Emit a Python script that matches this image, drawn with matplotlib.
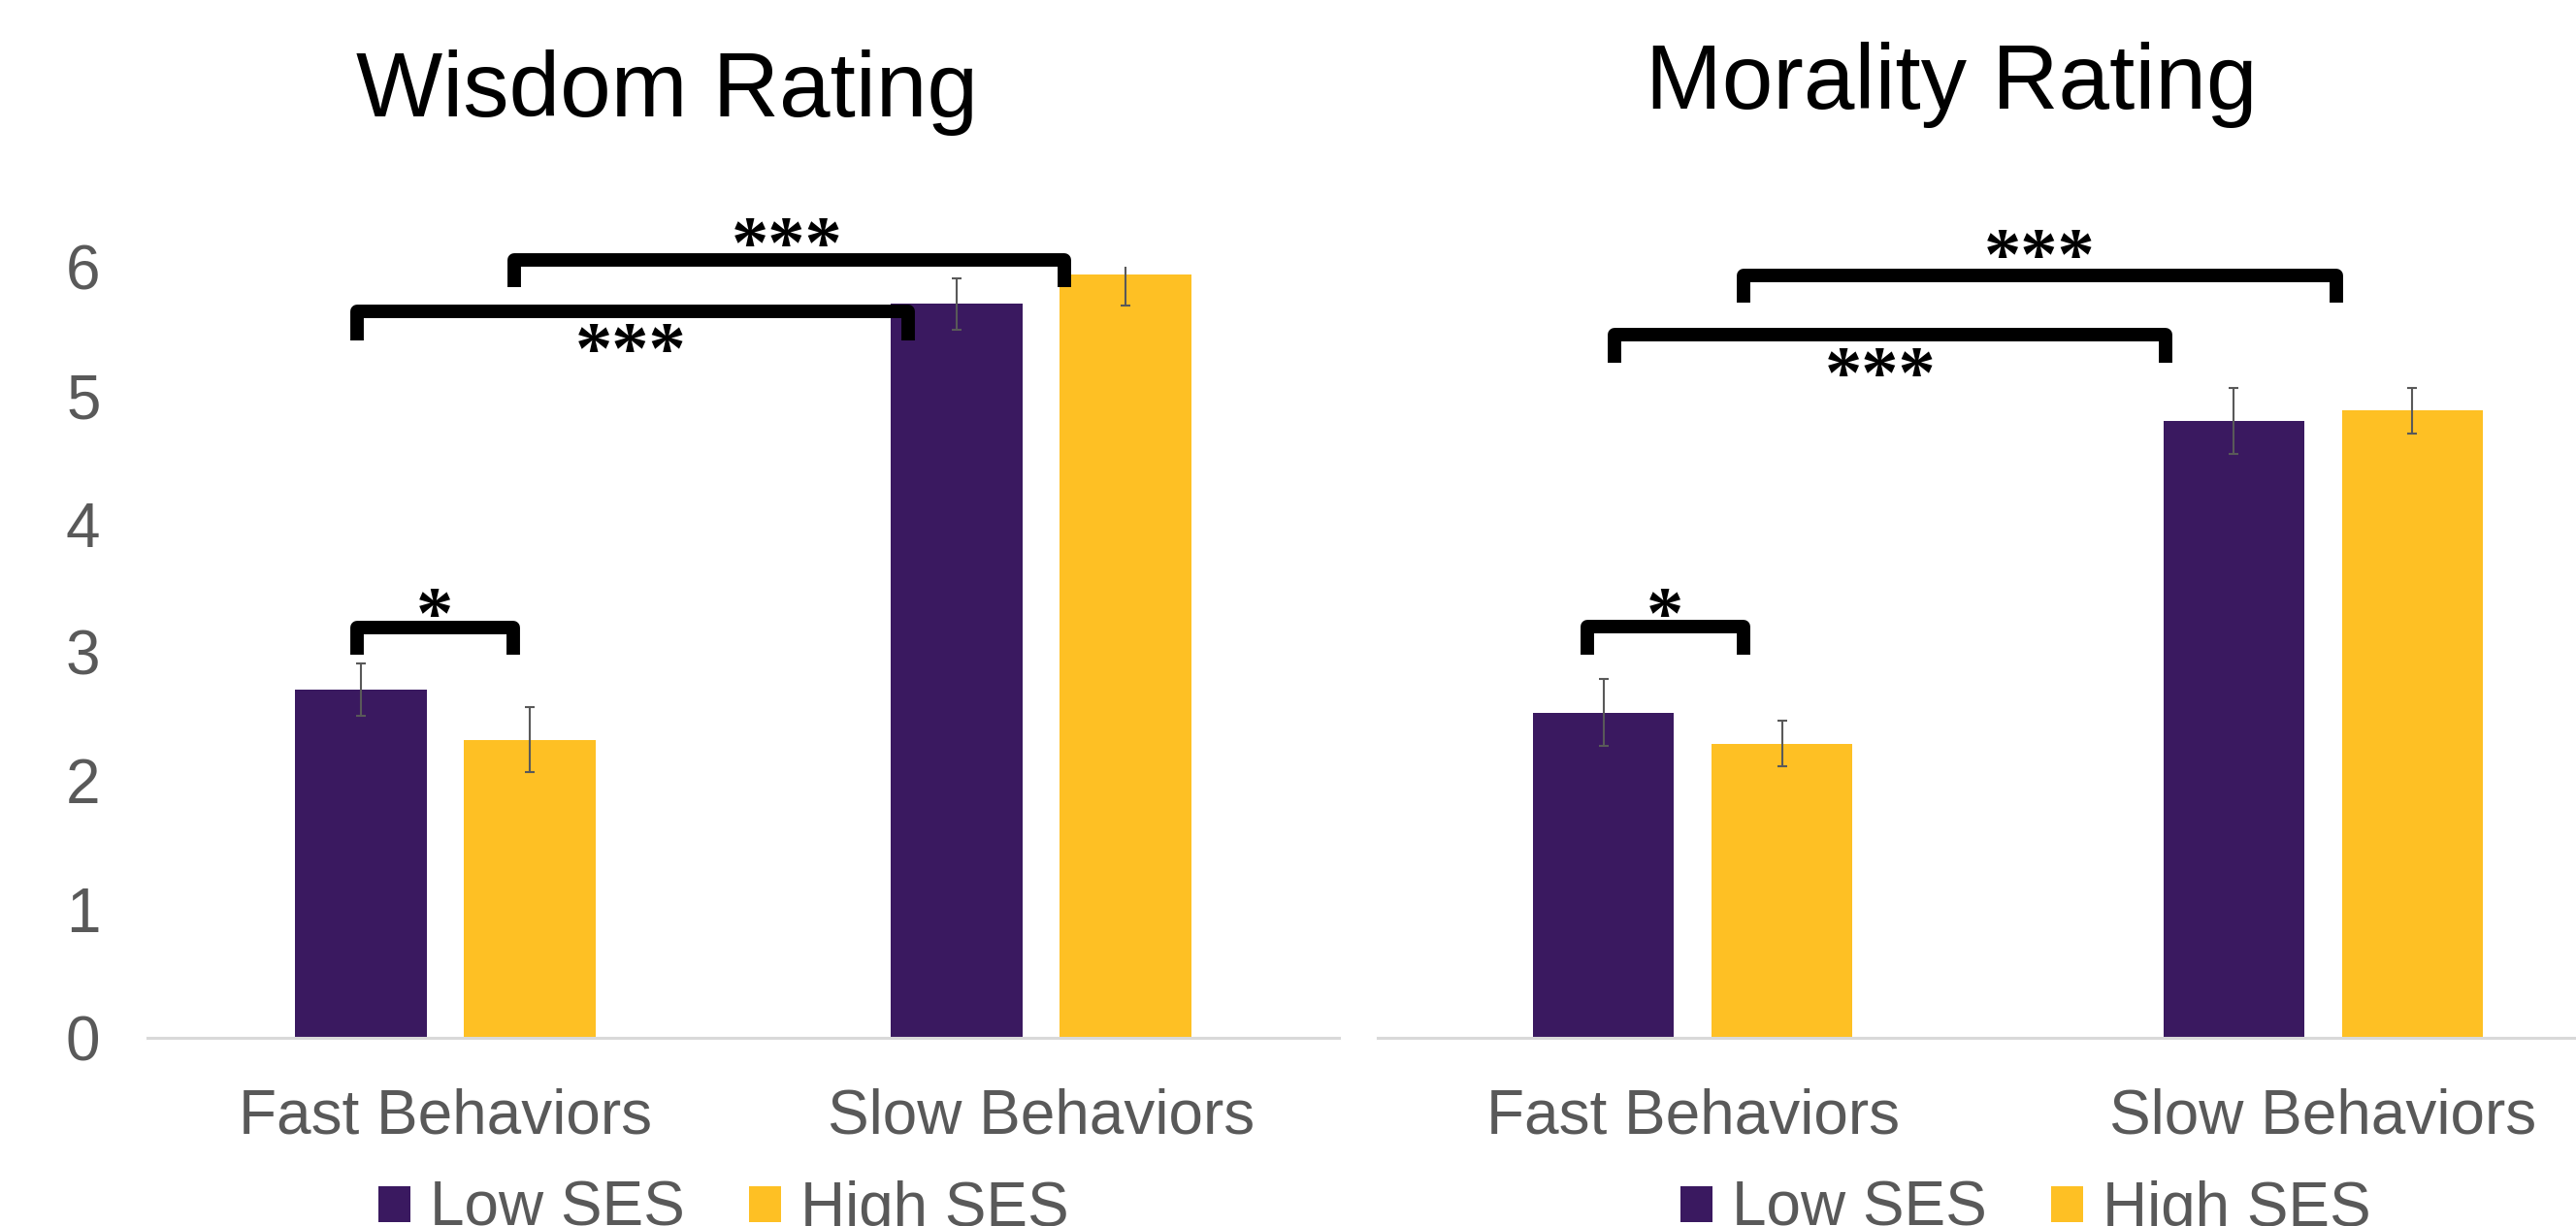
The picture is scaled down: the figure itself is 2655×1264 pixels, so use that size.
import matplotlib
matplotlib.use("Agg")
import matplotlib.pyplot as plt
from matplotlib.path import Path
from matplotlib.patches import PathPatch

# === Данные ===
categories = ["Fast Behaviors", "Slow Behaviors"]
groups = ["Low SES", "High SES"]

wisdom_low = [2.71, 5.71]
wisdom_high = [2.32, 5.94]
wisdom_low_err = [0.205, 0.20]
wisdom_high_err = [0.25, 0.24]

morality_low = [2.53, 4.80]
morality_high = [2.29, 4.88]
morality_low_err = [0.26, 0.26]
morality_high_err = [0.175, 0.175]

# скобки значимости: (x1, x2, y линии, y ножек, x текста, y центра текста, текст)
wisdom_brackets = [
    (-0.148, 0.114, 3.19, 2.98, -0.018, 3.37, "*"),
    (-0.148, 0.777, 5.65, 5.43, 0.311, 5.43, "***"),
    (0.116, 1.039, 6.05, 5.84, 0.573, 6.25, "***"),
]
morality_brackets = [
    (-0.167, 0.080, 3.20, 2.98, -0.044, 3.37, "*"),
    (-0.124, 0.750, 5.47, 5.25, 0.298, 5.24, "***"),
    (0.080, 1.021, 5.93, 5.72, 0.550, 6.16, "***"),
]

PURPLE = "#3A1960"
GOLD = "#FEC024"
GRAY = "#595959"

plt.rcParams["font.family"] = ["Liberation Sans", "DejaVu Sans"]

W, H = 2655, 1264
fig = plt.figure(figsize=(W / 100, H / 100), dpi=100)


def draw_bracket(ax, x1, x2, ytop, ybot):
    verts = [(x1, ybot), (x1, ytop), (x2, ytop), (x2, ybot)]
    codes = [Path.MOVETO, Path.LINETO, Path.LINETO, Path.LINETO]
    patch = PathPatch(Path(verts, codes), facecolor="none", edgecolor="black",
                      lw=10, joinstyle="round", capstyle="butt", clip_on=False)
    ax.add_patch(patch)


def draw_panel(ax, low, high, low_err, high_err, brackets, show_y):
    x = range(len(categories))
    off = 0.1417
    width = 0.223
    err_style = dict(ecolor=GRAY, elinewidth=1.5, capsize=3.5, capthick=1.5)
    ax.bar([i - off for i in x], low, width, color=PURPLE, label=groups[0],
           yerr=low_err, error_kw=err_style)
    ax.bar([i + off for i in x], high, width, color=GOLD, label=groups[1],
           yerr=high_err, error_kw=err_style)

    ax.set_xlim(-0.5, 1.5)
    ax.set_ylim(0, 6)
    ax.set_xticks(list(x))
    ax.set_xticklabels(categories)
    ax.tick_params(axis="x", length=0, pad=37, labelsize=46, labelcolor=GRAY)
    if show_y:
        ax.set_yticks(range(7))
        ax.tick_params(axis="y", length=0, pad=35, labelsize=46, labelcolor=GRAY)
    else:
        ax.set_yticks([])

    for side in ["top", "left", "right"]:
        ax.spines[side].set_visible(False)
    ax.spines["bottom"].set_color("#D9D9D9")
    ax.spines["bottom"].set_linewidth(2.2)

    # скобки и звёздочки
    for x1, x2, ytop, ybot, tx, ty, txt in brackets:
        draw_bracket(ax, x1, x2, ytop, ybot)
        ax.text(tx, ty - 0.25, txt, ha="center", va="baseline", fontsize=55,
                fontweight="bold", family=["Liberation Serif", "DejaVu Serif"],
                color="black", clip_on=False)


# === Левая панель: мудрость ===
ax1 = fig.add_axes([152 / W, (H - 1070) / H, 1228 / W, 795 / H])
draw_panel(ax1, wisdom_low, wisdom_high, wisdom_low_err, wisdom_high_err,
           wisdom_brackets, True)

# === Правая панель: мораль (выходит за правый край) ===
ax2 = fig.add_axes([1420 / W, (H - 1070) / H, 1299 / W, 795 / H])
draw_panel(ax2, morality_low, morality_high, morality_low_err, morality_high_err,
           morality_brackets, False)

# заголовки
fig.text(688 / W, (H - 120) / H, "Wisdom Rating", ha="center", va="baseline",
         fontsize=68, color="black")
fig.text(2011 / W, (H - 112) / H, "Morality Rating", ha="center", va="baseline",
         fontsize=68, color="black")

# легенды под каждой панелью
leg_style = dict(loc="center left", frameon=False, ncol=2, fontsize=46,
                 handlelength=0.52, handleheight=0.52, handletextpad=0.31,
                 columnspacing=1.03, borderpad=0, borderaxespad=0,
                 labelcolor=GRAY)
for ax, x0 in [(ax1, 390), (ax2, 1732)]:
    h, l = ax.get_legend_handles_labels()
    fig.legend(h, l, bbox_to_anchor=(x0 / W, 17 / H), **leg_style)

fig.savefig("out.png", dpi=100)
